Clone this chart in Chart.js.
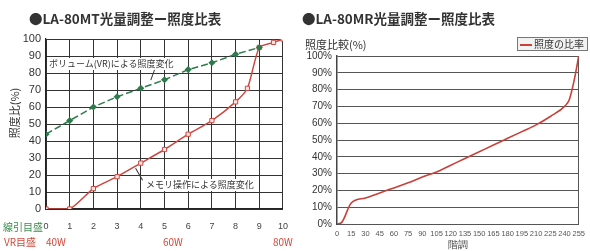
<!DOCTYPE html>
<html lang="ja">
<head>
<meta charset="UTF-8">
<title>LA-80 光量調整 照度比表</title>
<script src="https://cdn.jsdelivr.net/npm/chart.js"></script>
<style>
    body {
        margin: 0;
        width: 590px;
        height: 251px;
        position: relative;
        overflow: hidden;
        background: #fff;
        font-family: "Noto Sans CJK JP", "Noto Sans", sans-serif;
        color: #333;
    }
    .box { position: absolute; }
    .title { font-size: 13.5px; font-weight: bold; color: #333; white-space: nowrap; }
    .note { font-size: 9px; background: #fff; white-space: nowrap; color: #333; line-height: 12px; }
    .lbl { font-size: 10px; white-space: nowrap; line-height: 12px; }
    .green { color: #3d8c4f; }
    .red { color: #d0493c; }
    .lead { position: absolute; height: 1px; background: #333; transform-origin: 0 0; }
    #legend {
        border: 1px solid #777;
        background: #f2f2f2;
        font-size: 10px;
        line-height: 12px;
        padding: 0 3px 0 2px;
        white-space: nowrap;
    }
    #legend span.sw {
        display: inline-block;
        width: 12px;
        height: 2px;
        background: #c9403a;
        vertical-align: middle;
        margin-right: 2px;
    }
</style>
</head>
<body>
    <canvas id="mtChart" class="box" style="left:0;top:0" width="300" height="251"></canvas>
    <canvas id="mrChart" class="box" style="left:295px;top:0" width="295" height="251"></canvas>

    <div class="box title" style="left:29px;top:8px">●LA-80MT光量調整ー照度比表</div>
    <div class="box title" style="left:302px;top:8px">●LA-80MR光量調整ー照度比表</div>

    <div class="box lbl" style="left:-11px;top:107px;transform:rotate(-90deg);transform-origin:center;font-size:11px">照度比(%)</div>
    <div class="box note" style="left:49px;top:58px">ボリューム(VR)による照度変化</div>
    <div class="lead" style="left:155px;top:70px;width:11px;transform:rotate(110deg)"></div>
    <div class="box note" style="left:146px;top:179px">メモリ操作による照度変化</div>
    <div class="lead" style="left:136px;top:168px;width:14px;transform:rotate(60deg)"></div>

    <div class="box lbl green" style="left:3px;top:221px">線引目盛</div>
    <div class="box lbl red" style="left:4px;top:236px">VR目盛</div>
    <div class="box lbl red" style="left:46px;top:236px">40W</div>
    <div class="box lbl red" style="left:163px;top:236px">60W</div>
    <div class="box lbl red" style="left:273px;top:236px">80W</div>

    <div class="box" style="left:305px;top:36px;font-size:11px">照度比較(%)</div>
    <div class="box" id="legend" style="left:517px;top:37px"><span class="sw"></span>照度の比率</div>

<script>
    // LA-80MT: dial position 0-10 vs illuminance ratio (%)
    const mtTicks = ['0', '1', '2', '3', '4', '5', '6', '7', '8', '9', '10'];
    const vrX = [0, 1, 2, 3, 4, 5, 6, 7, 8, 9];
    const vrY = [44, 52, 60, 66, 71, 76, 82, 86, 91, 95];
    const dialX = [0, 1, 2, 3, 4, 5, 6, 7, 8, 8.5, 9, 9.6, 10];
    const dialY = [0, 0, 12, 19, 27, 35, 44, 52, 63, 71, 95, 98, 100];

    // LA-80MR: gradation 0-255 vs illuminance ratio (%)
    const mrX = [0, 5, 15, 30, 45, 60, 75, 90, 105, 120, 135, 150, 165, 180, 195, 210, 225, 240, 245, 250, 255];
    const mrY = [0, 1, 12.5, 15.5, 18.5, 21.5, 24.5, 28, 31, 35, 39, 43, 47, 51, 55, 59, 64, 70, 74, 85, 100];

    const pts = (xs, ys) => xs.map((x, i) => ({ x: x, y: ys[i] }));

    new Chart(document.getElementById('mtChart'), {
        type: 'line',
        data: {
            datasets: [
                {
                    label: 'ボリューム(VR)による照度変化',
                    data: pts(vrX, vrY),
                    borderColor: '#2f7a4c',
                    backgroundColor: '#2f7a4c',
                    borderWidth: 1.5,
                    borderDash: [7, 3],
                    pointStyle: 'rectRot',
                    pointRadius: 2.5,
                    tension: 0
                },
                {
                    label: 'メモリ操作による照度変化',
                    data: pts(dialX, dialY),
                    borderColor: '#d0453f',
                    backgroundColor: '#fbe6e4',
                    borderWidth: 1.5,
                    pointStyle: 'rect',
                    pointRadius: 3,
                    pointBorderWidth: 1,
                    tension: 0.2
                }
            ]
        },
        options: {
            responsive: false,
            animation: false,
            layout: { padding: { top: 39, right: 14, left: 0, bottom: 0 } },
            plugins: { legend: { display: false }, tooltip: { enabled: false } },
            scales: {
                x: {
                    type: 'linear', min: 0, max: 10,
                    afterFit: s => { s.height = 42; },
                    ticks: {
                        stepSize: 1, padding: 12, color: '#444',
                        font: { size: 9 },
                        callback: v => mtTicks[v]
                    },
                    grid: { color: '#333', lineWidth: 1, drawTicks: false },
                    border: { color: '#222', width: 1.2 }
                },
                y: {
                    min: 0, max: 100,
                    afterFit: s => { s.width = 46; },
                    ticks: { stepSize: 10, padding: 5, color: '#333', font: { size: 11 } },
                    grid: { color: '#333', lineWidth: 1, drawTicks: false },
                    border: { color: '#222', width: 1.2 }
                }
            }
        }
    });

    new Chart(document.getElementById('mrChart'), {
        type: 'line',
        data: {
            datasets: [{
                label: '照度の比率',
                data: pts(mrX, mrY),
                borderColor: '#c9403a',
                borderWidth: 1.6,
                pointRadius: 0,
                tension: 0.3,
                cubicInterpolationMode: 'monotone'
            }]
        },
        options: {
            responsive: false,
            animation: false,
            layout: { padding: { top: 56, right: 5, left: 0, bottom: 0 } },
            plugins: { legend: { display: false }, tooltip: { enabled: false } },
            scales: {
                x: {
                    type: 'linear', min: 0, max: 255,
                    afterFit: s => { s.height = 27; },
                    ticks: { stepSize: 15, padding: 5, color: '#555', font: { size: 7.5 }, maxRotation: 0, autoSkip: false },
                    grid: { display: false, drawTicks: false },
                    border: { color: '#555', width: 1 },
                    title: { display: true, text: '階調', color: '#444', font: { size: 10 }, padding: 0 }
                },
                y: {
                    min: 0, max: 100,
                    afterFit: s => { s.width = 42; },
                    ticks: { stepSize: 10, padding: 5, color: '#333', font: { size: 10 }, callback: v => v + '%' },
                    grid: { color: '#555', lineWidth: 1, drawTicks: false },
                    border: { color: '#444', width: 1.5 }
                },
                y2: {
                    position: 'right', min: 0, max: 100,
                    afterFit: s => { s.width = 0; },
                    ticks: { display: false },
                    grid: { display: false, drawTicks: false },
                    border: { color: '#555', width: 1 }
                }
            }
        }
    });
</script>
</body>
</html>
